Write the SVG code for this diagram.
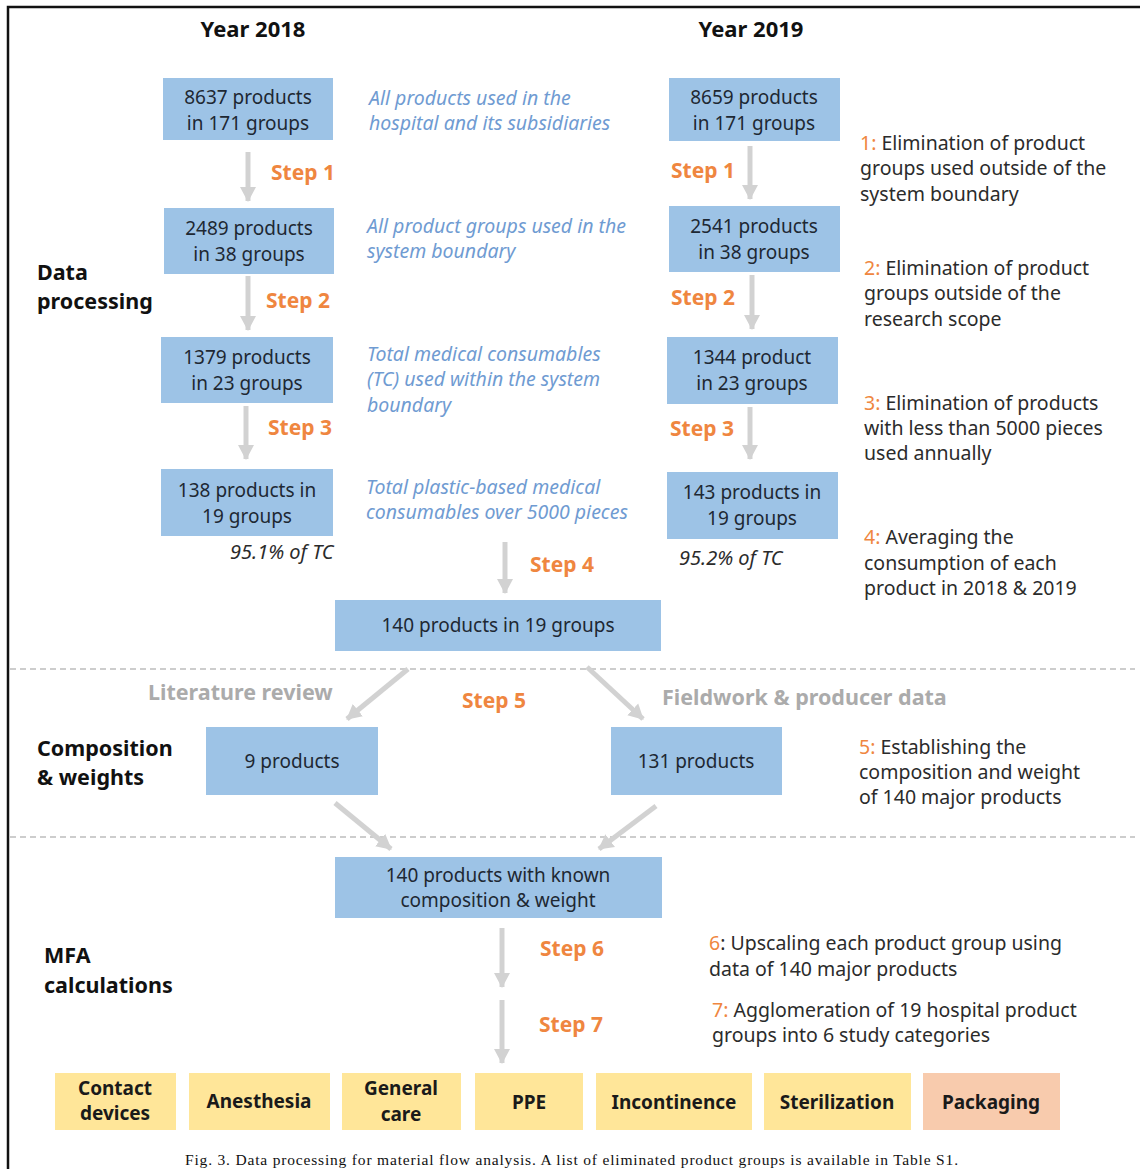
<svg xmlns="http://www.w3.org/2000/svg" width="1140" height="1169" viewBox="0 0 1140 1169">
<style>
.bx{fill:#9DC3E6}
.yb{fill:#FFE699}
.pk{fill:#F8CBAD}
.t{font-family:"Noto Sans","Open Sans",sans-serif;font-size:19px;fill:#1E2833;text-anchor:middle}
.h{font-family:"Noto Sans","Open Sans",sans-serif;font-size:22px;font-weight:bold;fill:#111;text-anchor:middle}
.sec{font-family:"Noto Sans","Open Sans",sans-serif;font-size:21.5px;font-weight:bold;fill:#111}
.st{font-family:"Noto Sans","Open Sans",sans-serif;font-size:21px;font-weight:bold;fill:#EF8640}
.bl{font-family:"Noto Sans","Open Sans",sans-serif;font-size:19.5px;font-style:italic;fill:#6F9BD2}
.an{font-family:"Noto Sans","Open Sans",sans-serif;font-size:19.5px;fill:#2B2B2B}
.an tspan.n{fill:#EF8640}
.pct{font-family:"Noto Sans","Open Sans",sans-serif;font-size:20px;font-style:italic;fill:#2B2B2B}
.gr{font-family:"Noto Sans","Open Sans",sans-serif;font-size:21.5px;font-weight:bold;fill:#ABABAB}
.cat{font-family:"Noto Sans","Open Sans",sans-serif;font-size:19px;font-weight:bold;fill:#1A1A1A;text-anchor:middle}
.cap{font-family:"Liberation Serif","Times New Roman",serif;font-size:15.5px;fill:#111}
.ar{stroke:#D2D2D2;stroke-width:5;fill:none;marker-end:url(#ah)}
.ds{stroke:#BDBDBD;stroke-width:1.6;stroke-dasharray:6 4;fill:none}
</style>
<defs>
<marker id="ah" markerUnits="userSpaceOnUse" markerWidth="18" markerHeight="18" refX="14" refY="9" orient="auto">
<path d="M0,1 L15,9 L0,17 z" fill="#D2D2D2"/>
</marker>
</defs>
<rect x="0" y="0" width="1140" height="1169" fill="#fff"/>
<path d="M8,1169 L8,7 L1140,7" fill="none" stroke="#111" stroke-width="2.5"/>

<g id="headers">
<text class="h" x="253" y="37">Year 2018</text>
<text class="h" x="751" y="37">Year 2019</text>
</g>
<g id="sections">
<text class="sec" x="37" y="280">Data</text>
<text class="sec" x="37" y="309">processing</text>
<text class="sec" x="37" y="756">Composition</text>
<text class="sec" x="37" y="785">&amp; weights</text>
<text class="sec" x="44" y="963">MFA</text>
<text class="sec" x="44" y="993">calculations</text>
</g>

<g id="dividers">
<line class="ds" x1="10" y1="669" x2="1135" y2="669"/>
<line class="ds" x1="10" y1="837" x2="1135" y2="837"/>
</g>

<g id="connectors">
<line class="ar" x1="248" y1="152" x2="248" y2="201"/>
<line class="ar" x1="248" y1="276" x2="248" y2="330"/>
<line class="ar" x1="246" y1="406" x2="246" y2="459"/>
<line class="ar" x1="750" y1="146" x2="750" y2="199"/>
<line class="ar" x1="752" y1="275" x2="752" y2="329"/>
<line class="ar" x1="750" y1="407" x2="750" y2="459"/>
<line class="ar" x1="505" y1="542" x2="505" y2="593"/>
<line class="ar" x1="408" y1="669" x2="347" y2="719"/>
<line class="ar" x1="587" y1="667" x2="643" y2="719"/>
<line class="ar" x1="335" y1="803" x2="391" y2="849"/>
<line class="ar" x1="656" y1="806" x2="599" y2="849"/>
<line class="ar" x1="502" y1="928" x2="502" y2="987"/>
<line class="ar" x1="502" y1="1000" x2="502" y2="1063"/>
</g>

<g id="step-labels">
<text class="st" x="271" y="180">Step 1</text>
<text class="st" x="266" y="308">Step 2</text>
<text class="st" x="268" y="435">Step 3</text>
<text class="st" x="671" y="178">Step 1</text>
<text class="st" x="671" y="305">Step 2</text>
<text class="st" x="670" y="436">Step 3</text>
<text class="st" x="530" y="572">Step 4</text>
<text class="st" x="462" y="708">Step 5</text>
<text class="st" x="540" y="956">Step 6</text>
<text class="st" x="539" y="1032">Step 7</text>
</g>

<g id="n2018-1"><rect class="bx" x="163" y="78" width="170" height="62"/><text class="t" x="248" y="104">8637 products</text><text class="t" x="248" y="130">in 171 groups</text></g>
<g id="n2018-2"><rect class="bx" x="164" y="208" width="170" height="66"/><text class="t" x="249" y="235">2489 products</text><text class="t" x="249" y="261">in 38 groups</text></g>
<g id="n2018-3"><rect class="bx" x="161" y="337" width="172" height="66"/><text class="t" x="247" y="364">1379 products</text><text class="t" x="247" y="390">in 23 groups</text></g>
<g id="n2018-4"><rect class="bx" x="161" y="469" width="172" height="67"/><text class="t" x="247" y="497">138 products in</text><text class="t" x="247" y="523">19 groups</text></g>
<text class="pct" x="230" y="559">95.1% of TC</text>

<g id="n2019-1"><rect class="bx" x="669" y="78" width="171" height="63"/><text class="t" x="754" y="104">8659 products</text><text class="t" x="754" y="130">in 171 groups</text></g>
<g id="n2019-2"><rect class="bx" x="669" y="206" width="171" height="66"/><text class="t" x="754" y="233">2541 products</text><text class="t" x="754" y="259">in 38 groups</text></g>
<g id="n2019-3"><rect class="bx" x="667" y="337" width="171" height="67"/><text class="t" x="752" y="364">1344 product</text><text class="t" x="752" y="390">in 23 groups</text></g>
<g id="n2019-4"><rect class="bx" x="667" y="472" width="171" height="67"/><text class="t" x="752" y="499">143 products in</text><text class="t" x="752" y="525">19 groups</text></g>
<text class="pct" x="679" y="565">95.2% of TC</text>

<g id="desc">
<text class="bl" x="369" y="105">All products used in the</text>
<text class="bl" x="369" y="130">hospital and its subsidiaries</text>
<text class="bl" x="367" y="233">All product groups used in the</text>
<text class="bl" x="367" y="258">system boundary</text>
<text class="bl" x="367" y="361">Total medical consumables</text>
<text class="bl" x="367" y="386">(TC) used within the system</text>
<text class="bl" x="367" y="412">boundary</text>
<text class="bl" x="366" y="494">Total plastic-based medical</text>
<text class="bl" x="366" y="519">consumables over 5000 pieces</text>
</g>

<g id="notes">
<text class="an" x="860" y="150"><tspan class="n">1:</tspan> Elimination of product</text>
<text class="an" x="860" y="175">groups used outside of the</text>
<text class="an" x="860" y="201">system boundary</text>
<text class="an" x="864" y="275"><tspan class="n">2:</tspan> Elimination of product</text>
<text class="an" x="864" y="300">groups outside of the</text>
<text class="an" x="864" y="326">research scope</text>
<text class="an" x="864" y="410"><tspan class="n">3:</tspan> Elimination of products</text>
<text class="an" x="864" y="435">with less than 5000 pieces</text>
<text class="an" x="864" y="460">used annually</text>
<text class="an" x="864" y="544"><tspan class="n">4:</tspan> Averaging the</text>
<text class="an" x="864" y="570">consumption of each</text>
<text class="an" x="864" y="595">product in 2018 &amp; 2019</text>
<text class="an" x="859" y="754"><tspan class="n">5:</tspan> Establishing the</text>
<text class="an" x="859" y="779">composition and weight</text>
<text class="an" x="859" y="804">of 140 major products</text>
<text class="an" x="709" y="950"><tspan class="n">6</tspan>: Upscaling each product group using</text>
<text class="an" x="709" y="976">data of 140 major products</text>
<text class="an" x="712" y="1017"><tspan class="n">7:</tspan> Agglomeration of 19 hospital product</text>
<text class="an" x="712" y="1042">groups into 6 study categories</text>
</g>

<g id="n-140"><rect class="bx" x="335" y="600" width="326" height="51"/><text class="t" x="498" y="632">140 products in 19 groups</text></g>
<text class="gr" x="148" y="700">Literature review</text>
<text class="gr" x="662" y="705">Fieldwork &amp; producer data</text>
<g id="n-9"><rect class="bx" x="206" y="727" width="172" height="68"/><text class="t" x="292" y="768">9 products</text></g>
<g id="n-131"><rect class="bx" x="611" y="727" width="171" height="68"/><text class="t" x="696" y="768">131 products</text></g>
<g id="n-known"><rect class="bx" x="335" y="857" width="327" height="61"/><text class="t" x="498" y="882">140 products with known</text><text class="t" x="498" y="907">composition &amp; weight</text></g>

<g id="cat-contact"><rect class="yb" x="55" y="1073" width="121" height="57"/><text class="cat" x="115" y="1095">Contact</text><text class="cat" x="115" y="1120">devices</text></g>
<g id="cat-anesthesia"><rect class="yb" x="189" y="1073" width="141" height="57"/><text class="cat" x="259" y="1108">Anesthesia</text></g>
<g id="cat-general"><rect class="yb" x="342" y="1073" width="119" height="57"/><text class="cat" x="401" y="1095">General</text><text class="cat" x="401" y="1121">care</text></g>
<g id="cat-ppe"><rect class="yb" x="475" y="1073" width="108" height="57"/><text class="cat" x="529" y="1109">PPE</text></g>
<g id="cat-incontinence"><rect class="yb" x="596" y="1073" width="156" height="57"/><text class="cat" x="674" y="1109">Incontinence</text></g>
<g id="cat-sterilization"><rect class="yb" x="764" y="1073" width="147" height="57"/><text class="cat" x="837" y="1109">Sterilization</text></g>
<g id="cat-packaging"><rect class="pk" x="923" y="1073" width="137" height="57"/><text class="cat" x="991" y="1109">Packaging</text></g>

<text class="cap" x="185" y="1165" textLength="773" lengthAdjust="spacing">Fig. 3. Data processing for material flow analysis. A list of eliminated product groups is available in Table S1.</text>
</svg>
